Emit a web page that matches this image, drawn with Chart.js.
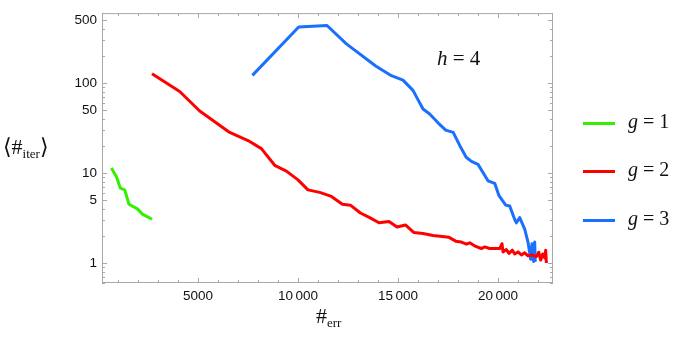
<!DOCTYPE html>
<html>
<head>
<meta charset="utf-8">
<script src="https://cdn.jsdelivr.net/npm/chart.js@4"></script>
<style>
  body { margin: 0; background: #fff; }
  #wrap { position: relative; width: 692px; height: 347px; }
  #chart { position: absolute; left: 0; top: 0; }
  .math { position: absolute; font-family: "Liberation Serif", "DejaVu Serif", serif; color: #111; white-space: nowrap; }
  .math i { font-style: italic; }
  .math sub { font-size: 13px; vertical-align: -4px; }
  .key { position: absolute; left: 583px; width: 32px; height: 3px; }
</style>
</head>
<body>
<div id="wrap">
  <canvas id="chart" width="692" height="347"></canvas>
  <div class="math" style="left:3px; top:134px; font-size:22px;">⟨#<sub>iter</sub>⟩</div>
  <div class="math" style="left:316px; top:303px; font-size:22px;">#<sub>err</sub></div>
  <div class="math" style="left:437px; top:46px; font-size:21px;"><i>h</i> = 4</div>
  <div class="key" style="top:122px; background:#33f000;"></div>
  <div class="math" style="left:628px; top:110px; font-size:20px;"><i>g</i> = 1</div>
  <div class="key" style="top:170px; background:#ff0000;"></div>
  <div class="math" style="left:628px; top:158px; font-size:20px;"><i>g</i> = 2</div>
  <div class="key" style="top:219px; background:#1a6fff;"></div>
  <div class="math" style="left:628px; top:207px; font-size:20px;"><i>g</i> = 3</div>
</div>
<script>
// данные
const errG1 = [670, 920, 1120, 1335, 1550, 1970, 2220, 2700];
const iterG1 = [11.4, 9.1, 6.8, 6.5, 4.5, 4.0, 3.5, 3.07];

const errG2 = [2700, 4085, 5085, 6585, 7500, 8170, 8835, 9420, 10000, 10500, 11085, 11670, 12220, 12620,
    13120, 13585, 14050, 14550, 14950, 15370, 15785, 16250, 16750, 17550, 17885, 18170, 18420, 18585,
    18885, 19170, 19335, 19585, 20085, 20200, 20250, 20420, 20550, 20720, 20835, 21000, 21170, 21335,
    21500, 21685, 21920, 22035, 22135, 22235, 22335, 22385, 22420];
const iterG2 = [127, 80.6, 49, 28.3, 23, 18.7, 12.2, 10.5, 8.4, 6.5, 6.1, 5.5, 4.5, 4.4,
    3.6, 3.2, 2.8, 2.9, 2.52, 2.65, 2.19, 2.13, 2.02, 1.93, 1.75, 1.71, 1.62, 1.68,
    1.53, 1.45, 1.51, 1.45, 1.45, 1.64, 1.33, 1.41, 1.28, 1.39, 1.26, 1.33, 1.23, 1.3,
    1.2, 1.23, 1.18, 1.32, 1.08, 1.26, 1.14, 1.39, 1.0];

const errG3 = [7720, 10035, 11450, 12420, 13885, 14670, 15250, 15750, 16250, 16585, 17000, 17385, 17760,
    18085, 18410, 18670, 19000, 19500, 19835, 20050, 20385, 20585, 20835, 20920, 21085, 21335, 21500,
    21635, 21700, 21785, 21835, 21860];
const iterG3 = [122, 420, 437, 273, 155, 121, 108, 83, 51.6, 45.3, 36.2, 30, 28.3,
    20.3, 15, 13.5, 12.5, 8.2, 7.7, 5.6, 4.4, 4.3, 3.05, 2.8, 3.2, 2.38, 1.71,
    1.1, 1.64, 1.04, 1.71, 1.03];

const xTicks = [5000, 10000, 15000, 20000];
const yTicks = [1, 5, 10, 50, 100, 500];

function toPoints(xs, ys) {
    return xs.map((x, i) => ({ x: x, y: ys[i] }));
}

// рамка и засечки внутрь, как в Mathematica
const framePlugin = {
    id: 'frame',
    beforeDatasetsDraw(chart) {
        const { ctx, chartArea: a, scales: { x, y } } = chart;
        ctx.save();
        ctx.strokeStyle = '#a8a8a8';
        ctx.lineWidth = 1;
        ctx.strokeRect(a.left + 0.5, a.top + 0.5, a.right - a.left - 1, a.bottom - a.top - 1);
        ctx.beginPath();
        for (let v = 1000; v <= 22000; v += 1000) {
            const px = Math.round(x.getPixelForValue(v)) + 0.5;
            const len = v % 5000 === 0 ? 5 : 3;
            ctx.moveTo(px, a.bottom); ctx.lineTo(px, a.bottom - len);
            ctx.moveTo(px, a.top); ctx.lineTo(px, a.top + len);
        }
        for (let dec = 0.1; dec < 1000; dec *= 10) {
            for (let m = 1; m <= 9; m++) {
                const v = m * dec;
                if (v < y.min || v > y.max) continue;
                const py = Math.round(y.getPixelForValue(v)) + 0.5;
                const len = (m === 1 || m === 5) ? 5 : 3;
                ctx.moveTo(a.left, py); ctx.lineTo(a.left + len, py);
                ctx.moveTo(a.right, py); ctx.lineTo(a.right - len, py);
            }
        }
        ctx.stroke();
        ctx.restore();
    }
};

const tickFont = { family: '"Liberation Sans", Arial, sans-serif', size: 13.5 };

new Chart(document.getElementById('chart'), {
    type: 'line',
    data: {
        datasets: [
            { label: 'g = 1', data: toPoints(errG1, iterG1), borderColor: '#33f000' },
            { label: 'g = 2', data: toPoints(errG2, iterG2), borderColor: '#ff0000' },
            { label: 'g = 3', data: toPoints(errG3, iterG3), borderColor: '#1a6fff' }
        ]
    },
    options: {
        responsive: false,
        animation: false,
        devicePixelRatio: 1,
        layout: { padding: { left: 0, top: 5, right: 139, bottom: 0 } },
        elements: {
            line: { borderWidth: 3, tension: 0, borderJoinStyle: 'round', borderCapStyle: 'butt' },
            point: { radius: 0 }
        },
        plugins: { legend: { display: false }, tooltip: { enabled: false } },
        scales: {
            x: {
                type: 'linear',
                min: 200,
                max: 22750,
                grid: { display: false, drawTicks: false },
                border: { display: false },
                afterFit: s => { s.height = 64; },
                afterBuildTicks: s => { s.ticks = xTicks.map(v => ({ value: v })); },
                ticks: {
                    padding: 5,
                    color: '#111',
                    font: tickFont,
                    maxRotation: 0,
                    callback: v => v >= 10000 ? Math.floor(v / 1000) + '\u2009' + String(v % 1000).padStart(3, '0') : String(v)
                }
            },
            y: {
                type: 'logarithmic',
                min: 0.62,
                max: 600,
                grid: { display: false, drawTicks: false },
                border: { display: false },
                afterFit: s => { s.width = 102; },
                afterBuildTicks: s => { s.ticks = yTicks.map(v => ({ value: v })); },
                ticks: {
                    padding: 5,
                    color: '#111',
                    font: tickFont,
                    callback: v => String(v)
                }
            }
        }
    },
    plugins: [framePlugin]
});
</script>
</body>
</html>
